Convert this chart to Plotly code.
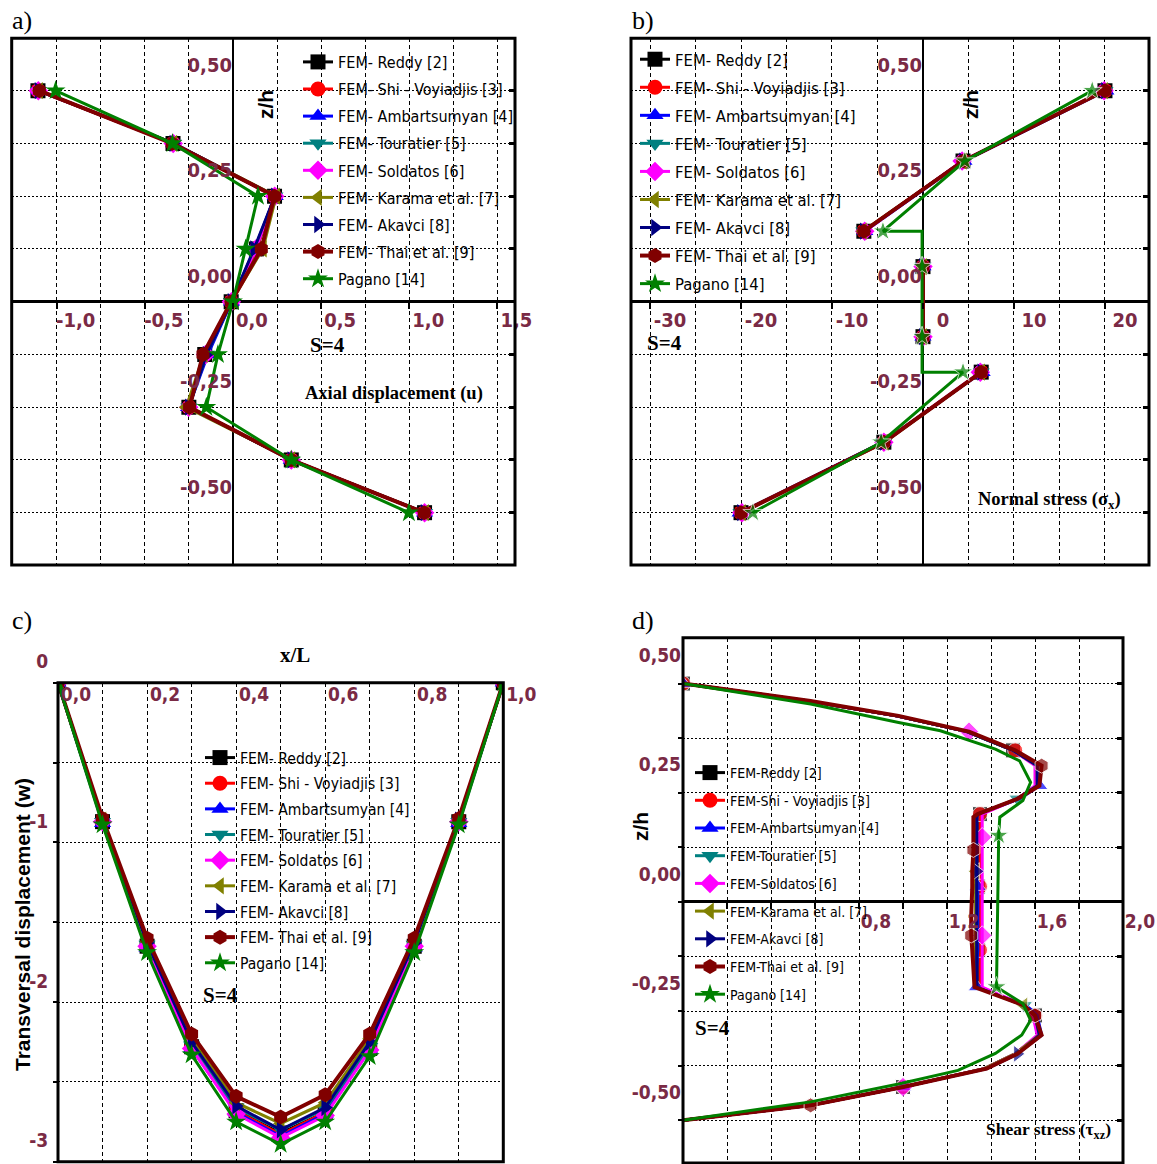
import plotly.graph_objects as go

FIG_W, FIG_H = 1157, 1164

# ---------------- series metadata ----------------
names = ["FEM- Reddy [2]", "FEM- Shi - Voyiadjis [3]", "FEM- Ambartsumyan [4]",
         "FEM- Touratier [5]", "FEM- Soldatos [6]", "FEM- Karama et al. [7]",
         "FEM- Akavci [8]", "FEM- Thai et al. [9]", "Pagano [14]"]
names_d = ["FEM-Reddy [2]", "FEM-Shi - Voyiadjis [3]", "FEM-Ambartsumyan [4]",
           "FEM-Touratier [5]", "FEM-Soldatos [6]", "FEM-Karama et al. [7]",
           "FEM-Akavci [8]", "FEM-Thai et al. [9]", "Pagano [14]"]
colors = ["#000000", "#ff0000", "#0000ff", "#008080", "#ff00ff",
          "#808000", "#000080", "#800000", "#008000"]
symbols = ["square", "circle", "triangle-up", "triangle-down", "diamond",
           "triangle-left", "triangle-right", "hexagon", "star"]

# ---------------- a) axial displacement u through the thickness ----------------
z_a = [0.5, 0.375, 0.25, 0.125, 0.0, -0.125, -0.25, -0.375, -0.5]
u_reddy = [-1.106, -0.340, 0.236, 0.133, -0.010, -0.160, -0.250, 0.331, 1.087]
u_shi = [-1.106, -0.340, 0.236, 0.133, -0.010, -0.158, -0.250, 0.331, 1.087]
u_amb = [-1.100, -0.335, 0.240, 0.123, -0.008, -0.142, -0.252, 0.331, 1.087]
u_tour = [-1.103, -0.338, 0.238, 0.128, -0.008, -0.150, -0.250, 0.331, 1.087]
u_sold = [-1.104, -0.339, 0.237, 0.130, -0.009, -0.155, -0.251, 0.331, 1.087]
u_kara = [-1.100, -0.338, 0.245, 0.170, -0.010, -0.165, -0.265, 0.331, 1.090]
u_akav = [-1.103, -0.338, 0.238, 0.120, -0.008, -0.150, -0.250, 0.331, 1.087]
u_thai = [-1.098, -0.345, 0.236, 0.161, -0.010, -0.170, -0.246, 0.331, 1.085]
u_pagano = [-1.006, -0.343, 0.142, 0.072, 0.000, -0.085, -0.151, 0.331, 0.998]

# ---------------- b) normal stress sigma_x through the thickness ----------------
z_b_fem = [0.5, 0.333, 0.167, None, 0.083, -0.083, None, -0.167, -0.333, -0.5]
sx_reddy = [20.0, 4.4, -6.5, None, 0.0, 0.0, None, 6.4, -4.3, -20.0]
sx_shi = [20.0, 4.4, -6.5, None, 0.0, 0.0, None, 6.4, -4.3, -20.0]
sx_amb = [20.1, 4.5, -6.4, None, 0.0, 0.0, None, 6.5, -4.4, -20.1]
sx_tour = [20.0, 4.4, -6.5, None, 0.0, 0.0, None, 6.4, -4.3, -20.0]
sx_sold = [19.9, 4.3, -6.4, None, 0.0, 0.0, None, 6.3, -4.3, -19.9]
sx_kara = [19.9, 4.4, -6.6, None, 0.0, 0.0, None, 6.4, -4.2, -19.9]
sx_akav = [20.0, 4.4, -6.5, None, 0.0, 0.0, None, 6.4, -4.3, -20.0]
sx_thai = [20.0, 4.4, -6.5, None, 0.0, 0.0, None, 6.4, -4.3, -20.0]
z_b_pagano = [0.5, 0.333, 0.167, 0.167, 0.083, -0.083, -0.167, -0.167, -0.333, -0.5]
sx_pagano = [18.6, 4.6, -4.4, -0.1, -0.1, -0.1, -0.1, 4.4, -4.6, -18.7]
pagano_b_nodes = [True, True, True, False, True, True, False, True, True, True]

# ---------------- c) transversal displacement w along the span ----------------
x_c = [0.0, 0.1, 0.2, 0.3, 0.4, 0.5, 0.6, 0.7, 0.8, 0.9, 1.0]
w_reddy = [0, -0.87, -1.65, -2.28, -2.68, -2.82, -2.69, -2.29, -1.65, -0.87, 0]
w_shi = [0, -0.87, -1.65, -2.28, -2.68, -2.83, -2.69, -2.29, -1.65, -0.87, 0]
w_amb = [0, -0.88, -1.66, -2.29, -2.69, -2.84, -2.70, -2.30, -1.66, -0.88, 0]
w_tour = [0, -0.87, -1.64, -2.27, -2.66, -2.80, -2.67, -2.28, -1.64, -0.87, 0]
w_sold = [0, -0.87, -1.65, -2.29, -2.70, -2.85, -2.71, -2.30, -1.65, -0.87, 0]
w_kara = [0, -0.86, -1.62, -2.22, -2.63, -2.76, -2.63, -2.23, -1.62, -0.86, 0]
w_akav = [0, -0.86, -1.63, -2.25, -2.65, -2.80, -2.66, -2.25, -1.63, -0.86, 0]
w_thai = [0, -0.85, -1.60, -2.20, -2.59, -2.72, -2.58, -2.20, -1.60, -0.85, 0]
w_pagano = [0, -0.89, -1.69, -2.33, -2.75, -2.89, -2.75, -2.34, -1.69, -0.89, 0]

# ---------------- d) transverse shear stress tau_xz through the thickness ----------------
z_d_fem = [0.5, 0.46, 0.426, 0.39, 0.347, 0.312, 0.266, 0.236, 0.201, 0.194, 0.148,
           0.119, 0.07, 0.035, -0.035, -0.077, -0.11, -0.15, -0.195, -0.237, -0.26,
           -0.305, -0.348, -0.382, -0.424, -0.466, -0.5]
tau_reddy = [0.0, 0.57, 0.97, 1.29, 1.50, 1.61, 1.61, 1.52, 1.35, 1.34, 1.34, 1.34, 1.34, 1.34,
             1.34, 1.34, 1.34, 1.34, 1.34, 1.55, 1.60, 1.62, 1.51, 1.37, 1.00, 0.58, 0.0]
tau_shi = [0.0, 0.57, 0.97, 1.29, 1.51, 1.61, 1.61, 1.52, 1.35, 1.35, 1.35, 1.35, 1.35, 1.35,
           1.35, 1.35, 1.35, 1.35, 1.35, 1.55, 1.60, 1.62, 1.51, 1.37, 1.00, 0.58, 0.0]
tau_amb = [0.0, 0.57, 0.97, 1.29, 1.50, 1.61, 1.62, 1.53, 1.34, 1.335, 1.335, 1.335, 1.335, 1.34,
           1.34, 1.34, 1.34, 1.335, 1.335, 1.56, 1.61, 1.63, 1.52, 1.38, 1.00, 0.58, 0.0]
tau_tour = [0.0, 0.57, 0.97, 1.29, 1.50, 1.61, 1.61, 1.52, 1.34, 1.335, 1.335, 1.335, 1.335, 1.335,
            1.335, 1.335, 1.335, 1.335, 1.335, 1.55, 1.60, 1.62, 1.51, 1.37, 1.00, 0.58, 0.0]
tau_sold = [0.0, 0.57, 0.97, 1.30, 1.50, 1.60, 1.60, 1.52, 1.36, 1.36, 1.36, 1.36, 1.36, 1.36,
            1.36, 1.36, 1.36, 1.36, 1.36, 1.55, 1.59, 1.61, 1.51, 1.37, 1.00, 0.58, 0.0]
tau_kara = [0.0, 0.57, 0.97, 1.29, 1.50, 1.61, 1.61, 1.52, 1.34, 1.33, 1.33, 1.33, 1.33, 1.33,
            1.33, 1.33, 1.33, 1.33, 1.33, 1.55, 1.60, 1.62, 1.51, 1.37, 1.00, 0.58, 0.0]
tau_akav = [0.0, 0.57, 0.97, 1.29, 1.50, 1.61, 1.61, 1.52, 1.34, 1.335, 1.335, 1.335, 1.335, 1.335,
            1.335, 1.335, 1.335, 1.335, 1.335, 1.55, 1.60, 1.62, 1.52, 1.38, 1.00, 0.58, 0.0]
tau_thai = [0.0, 0.58, 0.98, 1.30, 1.51, 1.63, 1.62, 1.52, 1.34, 1.32, 1.32, 1.32, 1.315, 1.315,
            1.31, 1.31, 1.315, 1.32, 1.325, 1.55, 1.60, 1.63, 1.52, 1.38, 1.00, 0.58, 0.0]
z_d_pagano = [0.5, 0.453, 0.411, 0.392, 0.35, 0.323, 0.274, 0.232, 0.194, 0.152, -0.195,
              -0.233, -0.271, -0.305, -0.347, -0.386, -0.417, -0.458, -0.5]
tau_pagano = [0.0, 0.58, 0.98, 1.17, 1.42, 1.53, 1.58, 1.545, 1.44, 1.435, 1.425,
              1.545, 1.58, 1.54, 1.42, 1.25, 0.98, 0.58, 0.0]

# thickness positions where each solution's sampled nodes are shown
d_nodes_reddy = [0.5, 0.347, 0.201, 0.035, -0.11, -0.26, -0.424]
d_nodes_shi = [0.5, 0.347, 0.201, 0.035, -0.11, -0.26, -0.424]
d_nodes_amb = [0.5, 0.266, 0.035, -0.195, -0.424]
d_nodes_tour = [0.236, -0.237]
d_nodes_sold = [0.39, 0.148, -0.077, -0.424]
d_nodes_kara = [0.07, -0.237]
d_nodes_akav = [0.07, -0.348]
d_nodes_thai = [0.312, 0.119, -0.077, -0.26, -0.466]
d_nodes_pagano = [0.152, -0.195]

# ---------------- tick labels ----------------
a_xtick_vals = [-1.0, -0.5, 0.0, 0.5, 1.0, 1.5]
a_xtick_text = ["-1,0", "-0,5", "0,0", "0,5", "1,0", "1,5"]
z_tick_vals = [0.5, 0.25, 0.0, -0.25, -0.5]
z_tick_text = ["0,50", "0,25", "0,00", "-0,25", "-0,50"]
b_xtick_vals = [-30, -20, -10, 0, 10, 20]
b_xtick_text = ["-30", "-20", "-10", "0", "10", "20"]
c_xtick_vals = [0.0, 0.2, 0.4, 0.6, 0.8, 1.0]
c_xtick_text = ["0,0", "0,2", "0,4", "0,6", "0,8", "1,0"]
c_ytick_vals = [0, -1, -2, -3]
c_ytick_text = ["0", "-1", "-2", "-3"]
d_xtick_vals = [0.8, 1.2, 1.6, 2.0]
d_xtick_text = ["0,8", "1,2", "1,6", "2,0"]

# ---------------- styling helpers ----------------
NARROW = "Liberation Sans Narrow, Arial Narrow, DejaVu Sans Condensed, sans-serif"
SERIF = "Liberation Serif, Times New Roman, serif"
SANS = "Liberation Sans, Arial, sans-serif"
TICK_COLOR = "#7a2a45"
MSIZE = 15


def px_x(x):
    return x / FIG_W


def px_y(y):
    return 1 - y / FIG_H


# plot frames in pixels: left, top, right, bottom
frames = {
    "a": (11.7, 38.3, 515.0, 565.0),
    "b": (631.0, 38.3, 1149.0, 565.0),
    "c": (58.0, 682.7, 503.3, 1161.8),
    "d": (683.0, 637.7, 1123.0, 1163.0),
}
ranges = {
    "a": ([-1.255, 1.600], [-0.624, 0.624]),
    "b": ([-32.09, 24.84], [-0.624, 0.624]),
    "c": ([0.0, 1.0], [-3.0, 0.0]),
    "d": ([0.0, 2.0], [-0.598, 0.605]),
}


def dom(key):
    l, t, r, b = frames[key]
    return [px_x(l), px_x(r)], [px_y(b), px_y(t)]


def zero_pos(domain, rng):
    return domain[0] + (0 - rng[0]) / (rng[1] - rng[0]) * (domain[1] - domain[0])


HGRID = "2px,2px"
VGRID = "4px,3px"

fig = go.Figure()


def line_style(i):
    return dict(color=colors[i], width=4 if i == 7 else 3)


def add_series(xs, ys, i, xa, ya, leg, name, sizes=None):
    """One solution curve; sparse node markers get a separate legend proxy."""
    group = f"{leg}-{i}"
    fig.add_trace(go.Scatter(
        x=xs, y=ys, mode="lines+markers", name=name,
        line=line_style(i),
        marker=dict(symbol=symbols[i], size=MSIZE if sizes is None else sizes, color=colors[i]),
        xaxis=xa, yaxis=ya, legend=leg, legendgroup=group, showlegend=sizes is None,
        connectgaps=False, hoverinfo="skip"))
    if sizes is not None:
        fig.add_trace(go.Scatter(
            x=[None], y=[None], mode="lines+markers", name=name, line=line_style(i),
            marker=dict(symbol=symbols[i], size=MSIZE, color=colors[i]),
            xaxis=xa, yaxis=ya, legend=leg, legendgroup=group, showlegend=True,
            hoverinfo="skip"))


# a)
for i, u in enumerate([u_reddy, u_shi, u_amb, u_tour, u_sold, u_kara, u_akav, u_thai, u_pagano]):
    add_series(u, z_a, i, "x", "y", "legend", names[i])

# b)
for i, s in enumerate([sx_reddy, sx_shi, sx_amb, sx_tour, sx_sold, sx_kara, sx_akav, sx_thai]):
    add_series(s, z_b_fem, i, "x2", "y2", "legend2", names[i])
add_series(sx_pagano, z_b_pagano, 8, "x2", "y2", "legend2", names[8],
           sizes=[MSIZE if n else 0 for n in pagano_b_nodes])

# c)
for i, w in enumerate([w_reddy, w_shi, w_amb, w_tour, w_sold, w_kara, w_akav, w_thai, w_pagano]):
    add_series(x_c, w, i, "x3", "y3", "legend3", names[i])

# d)
d_fem = [tau_reddy, tau_shi, tau_amb, tau_tour, tau_sold, tau_kara, tau_akav, tau_thai]
d_nodes = [d_nodes_reddy, d_nodes_shi, d_nodes_amb, d_nodes_tour, d_nodes_sold,
           d_nodes_kara, d_nodes_akav, d_nodes_thai]
for i, (tau, nodes) in enumerate(zip(d_fem, d_nodes)):
    add_series(tau, z_d_fem, i, "x4", "y4", "legend4", names_d[i],
               sizes=[MSIZE if z in nodes else 0 for z in z_d_fem])
add_series(tau_pagano, z_d_pagano, 8, "x4", "y4", "legend4", names_d[8],
           sizes=[MSIZE if z in d_nodes_pagano else 0 for z in z_d_pagano])

# empty carriers for the tick-only axes on the right-hand frames
for xa, ya in [("x", "y5"), ("x2", "y6"), ("x4", "y7")]:
    fig.add_trace(go.Scatter(x=[None], y=[None], xaxis=xa, yaxis=ya, showlegend=False,
                             hoverinfo="skip"))

tick_font = dict(family=NARROW, size=20, color=TICK_COLOR, weight="bold")
tick_font_s = dict(family=NARROW, size=19, color=TICK_COLOR, weight="bold")

common = dict(showgrid=True, gridcolor="black", gridwidth=1, showline=False,
              tickcolor="black", tickmode="array", automargin=False)

layout = dict(width=FIG_W, height=FIG_H, margin=dict(l=0, r=0, t=0, b=0, autoexpand=False),
              paper_bgcolor="white", plot_bgcolor="white", showlegend=True)


def hminor(step, **kw):
    return dict(tickmode="linear", tick0=0, dtick=step, showgrid=True,
                gridcolor="black", griddash=HGRID, gridwidth=1, **kw)


def vminor(step, **kw):
    return dict(tickmode="linear", tick0=0, dtick=step, showgrid=True,
                gridcolor="black", griddash=VGRID, gridwidth=1, **kw)


def right_ticks(over, anchor, rng):
    return dict(overlaying=over, anchor=anchor, side="right", range=rng, tickmode="linear",
                tick0=0, dtick=0.125, ticks="inside", ticklen=6, tickwidth=3,
                tickcolor="black", showticklabels=False, showgrid=False, zeroline=False,
                showline=False, automargin=False)


# axes a
xd, yd = dom("a")
xr, yr = ranges["a"]
layout["xaxis"] = dict(common, domain=xd, range=xr, anchor="free", position=zero_pos(yd, yr),
                       tickvals=a_xtick_vals, ticktext=a_xtick_text, ticks="outside", ticklen=6,
                       tickwidth=2, ticklabelshift=19, ticklabelstandoff=-6, tickfont=tick_font,
                       griddash=VGRID, minor=vminor(0.25),
                       zeroline=True, zerolinecolor="black", zerolinewidth=2)
layout["yaxis"] = dict(common, domain=yd, range=yr, anchor="free", position=zero_pos(xd, xr),
                       side="left", tickvals=z_tick_vals, ticktext=z_tick_text, ticks="",
                       ticklabelshift=-26, ticklabelstandoff=1, tickfont=tick_font,
                       griddash=HGRID, minor=hminor(0.125),
                       zeroline=True, zerolinecolor="black", zerolinewidth=3)
layout["yaxis5"] = right_ticks("y", "x", yr)

# axes b
xd, yd = dom("b")
xr, yr = ranges["b"]
layout["xaxis2"] = dict(common, domain=xd, range=xr, anchor="free", position=zero_pos(yd, yr),
                        tickvals=b_xtick_vals, ticktext=b_xtick_text, ticks="outside", ticklen=6,
                        tickwidth=2, ticklabelshift=20, ticklabelstandoff=-6, tickfont=tick_font,
                        griddash=VGRID, minor=vminor(5),
                        zeroline=True, zerolinecolor="black", zerolinewidth=2)
layout["yaxis2"] = dict(common, domain=yd, range=yr, anchor="free", position=zero_pos(xd, xr),
                        side="left", tickvals=z_tick_vals, ticktext=z_tick_text, ticks="",
                        ticklabelshift=-26, ticklabelstandoff=1, tickfont=tick_font,
                        griddash=HGRID, minor=hminor(0.125),
                        zeroline=True, zerolinecolor="black", zerolinewidth=3)
layout["yaxis6"] = right_ticks("y2", "x2", yr)

# axes c: w = 0 runs along the top edge, its labels hang just below it
xd, yd = dom("c")
xr, yr = ranges["c"]
layout["xaxis3"] = dict(common, domain=xd, range=xr, anchor="free", position=yd[1], side="bottom",
                        tickvals=c_xtick_vals, ticktext=c_xtick_text, ticks="",
                        ticklabelshift=18, ticklabelstandoff=-2, tickfont=tick_font_s,
                        griddash=VGRID, minor=vminor(0.1), zeroline=False)
layout["yaxis3"] = dict(common, domain=yd, range=yr, anchor="x3", side="left",
                        tickvals=c_ytick_vals, ticktext=c_ytick_text, ticks="outside", ticklen=4,
                        tickwidth=2, ticklabelshift=-21, ticklabelstandoff=1, tickfont=tick_font_s,
                        griddash=HGRID,
                        minor=hminor(0.5, ticks="outside", ticklen=4, tickwidth=2, tickcolor="black"),
                        zeroline=False)

# axes d
xd, yd = dom("d")
xr, yr = ranges["d"]
layout["xaxis4"] = dict(common, domain=xd, range=xr, anchor="free", position=zero_pos(yd, yr),
                        tickvals=d_xtick_vals, ticktext=d_xtick_text, ticks="outside", ticklen=6,
                        tickwidth=2, ticklabelshift=17, ticklabelstandoff=-4, tickfont=tick_font_s,
                        griddash=VGRID,
                        minor=vminor(0.2, ticks="outside", ticklen=6, tickwidth=2, tickcolor="black"),
                        zeroline=False)
layout["yaxis4"] = dict(common, domain=yd, range=yr, anchor="x4", side="left",
                        tickvals=z_tick_vals, ticktext=z_tick_text, ticks="",
                        ticklabelshift=-28, ticklabelstandoff=1, tickfont=tick_font_s,
                        griddash=HGRID,
                        minor=hminor(0.125, ticks="outside", ticklen=4, tickwidth=2, tickcolor="black"),
                        zeroline=True, zerolinecolor="black", zerolinewidth=3)
layout["yaxis7"] = right_ticks("y4", "x4", yr)

# legends
legend_common = dict(bgcolor="rgba(0,0,0,0)", borderwidth=0, xanchor="left", yanchor="top",
                     itemsizing="trace", itemwidth=30, traceorder="grouped")
layout["legend"] = dict(legend_common, x=px_x(298), y=px_y(45), tracegroupgap=3.3,
                        font=dict(family=NARROW, size=16, color="black"))
layout["legend2"] = dict(legend_common, x=px_x(635), y=px_y(42), tracegroupgap=3.6,
                         font=dict(family=NARROW, size=16.5, color="black"))
layout["legend3"] = dict(legend_common, x=px_x(200), y=px_y(741), tracegroupgap=2.5,
                         font=dict(family=NARROW, size=15.5, color="black"))
layout["legend4"] = dict(legend_common, x=px_x(690), y=px_y(757), tracegroupgap=6.5,
                         font=dict(family=NARROW, size=14, color="black"))

# frames around each panel
shapes = []
for xa, ya in [("x", "y"), ("x2", "y2"), ("x3", "y3"), ("x4", "y4")]:
    shapes.append(dict(type="rect", xref=f"{xa} domain", yref=f"{ya} domain",
                       x0=0, x1=1, y0=0, y1=1, line=dict(color="black", width=3),
                       fillcolor="rgba(0,0,0,0)", layer="above"))
layout["shapes"] = shapes


def note(text, x, y, font, angle=0):
    return dict(text=text, x=px_x(x), y=px_y(y), xref="paper", yref="paper",
                xanchor="center", yanchor="middle", showarrow=False, font=font,
                textangle=angle)


panel_font = dict(family=SERIF, size=26, color="black")
label_serif = dict(family=SERIF, size=21, color="black", weight="bold")
label_sans = dict(family=SANS, size=21, color="black", weight="bold")

layout["annotations"] = [
    note("a)", 22, 20, panel_font),
    note("b)", 643, 20, panel_font),
    note("c)", 22, 620, panel_font),
    note("d)", 643, 620, panel_font),
    note("z/h", 265, 105, label_sans, -90),
    note("z/h", 970, 105, label_sans, -90),
    note("z/h", 640, 827, label_sans, -90),
    note("S=4", 327, 345, label_serif),
    note("S=4", 664, 343, label_serif),
    note("S=4", 220, 995, label_serif),
    note("S=4", 712, 1028, label_serif),
    note("Axial displacement (u)", 394, 393, dict(label_serif, size=18.5)),
    note("Normal stress (σ<sub>x</sub>)", 1049, 500, dict(label_serif, size=18.5)),
    note("Shear stress (τ<sub>xz</sub>)", 1048, 1130, dict(label_serif, size=17.5)),
    note("x/L", 295, 655, label_serif),
    note("Transversal displacement (w)", 22, 925, label_sans, -90),
]

fig.update_layout(**layout)
fig.write_html("out.html")
